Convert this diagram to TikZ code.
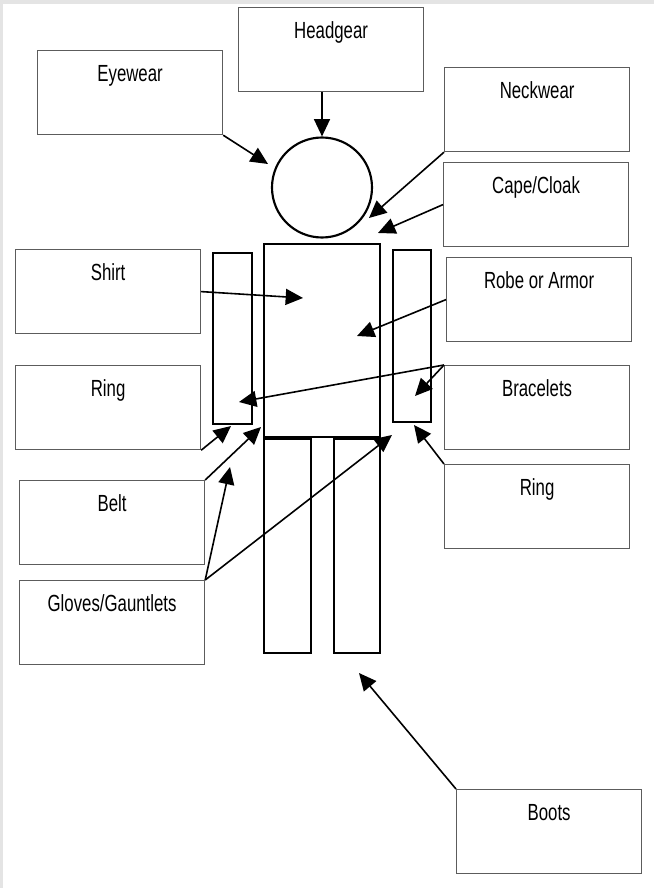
\documentclass[tikz,border=0pt]{standalone}
\usepackage{fontspec}
\setmainfont{Liberation Sans}[FakeStretch=0.72]
\usetikzlibrary{arrows.meta, calc}
\definecolor{boxgray}{HTML}{5C5C5C}
\definecolor{pagegray}{HTML}{E4E4E4}

\begin{document}
\begin{tikzpicture}[
  x=0.75pt, y=-0.75pt,
  >={Triangle[length=13pt, width=12pt]},
  tag/.style={draw=boxgray, line width=0.9pt, fill=white,
    minimum width=138.75pt, inner xsep=0pt, inner ysep=0pt,
    text height=23pt, text depth=40pt, anchor=north west,
    font=\fontsize{17.5}{20}\selectfont, text=black},
  limb/.style={draw=black, line width=1.6pt},
  arr/.style={->, line width=1.2pt, black},
]

% Page
\useasboundingbox (0,0) rectangle (654,888);
\fill[white] (0,0) rectangle (654,888);
\fill[pagegray] (0,0) rectangle (654,4);
\fill[pagegray] (0,0) rectangle (3,888);

% === Label boxes ===
\node[tag] (headgear)  at (238,7)   {Headgear};
\node[tag] (eyewear)   at (37,50)   {Eyewear};
\node[tag] (neckwear)  at (444,67)  {Neckwear};
\node[tag] (cape)      at (443,162) {Cape/Cloak};
\node[tag] (shirt)     at (15,249)  {Shirt};
\node[tag] (robe)      at (446,257) {Robe or Armor};
\node[tag] (ringL)     at (15,365)  {Ring};
\node[tag] (bracelets) at (444,365) {Bracelets};
\node[tag] (ringR)     at (444,464) {Ring};
\node[tag] (belt)      at (19,480)  {Belt};
\node[tag] (gloves)    at (19,580)  {Gloves/Gauntlets};
\node[tag] (boots)     at (456,789) {Boots};

% === Figure ===
\node[limb, circle, minimum size=75pt, inner sep=0pt] (head) at (322,187.5) {};
\draw[limb] (264,244) rectangle (380,437); % torso
\draw[limb] (213,253) rectangle (252,424); % left arm
\draw[limb] (393,250) rectangle (431,422); % right arm
\draw[limb] (264,439) rectangle (311,653); % left leg
\draw[limb] (334,439) rectangle (380,653); % right leg

% arrow tips on the figure
\coordinate (eyeT)   at (268,164);
\coordinate (neckT)  at (369,218);
\coordinate (capeT)  at (378,233);
\coordinate (shirtT) at (303,298);
\coordinate (robeT)  at (357,336);
\coordinate (armL)   at (239,402);
\coordinate (armR)   at (415,396);
\coordinate (handL)  at (231,426);
\coordinate (waistL) at (261,427);
\coordinate (wristL) at (230,467);
\coordinate (waistR) at (392,435);
\coordinate (handR)  at (414,425);
\coordinate (feet)   at (359,673);

% === Connectors ===
\draw[arr] (headgear.south -| head.north) -- (head.north);
\draw[arr] (eyewear.south east) -- (eyeT);
\draw[arr] (neckwear.south west) -- (neckT);
\draw[arr] (cape.west) -- (capeT);
\draw[arr] (shirt.east) -- (shirtT);
\draw[arr] (robe.west) -- (robeT);
\draw[arr] (bracelets.north west) -- (armL);
\draw[arr] (bracelets.north west) -- (armR);
\draw[arr] (ringL.south east) -- (handL);
\draw[arr] (belt.north east) -- (waistL);
\draw[arr] (gloves.north east) -- (wristL);
\draw[arr] (gloves.north east) -- (waistR);
\draw[arr] (ringR.north west) -- (handR);
\draw[arr] (boots.north west) -- (feet);

\end{tikzpicture}
\end{document}
